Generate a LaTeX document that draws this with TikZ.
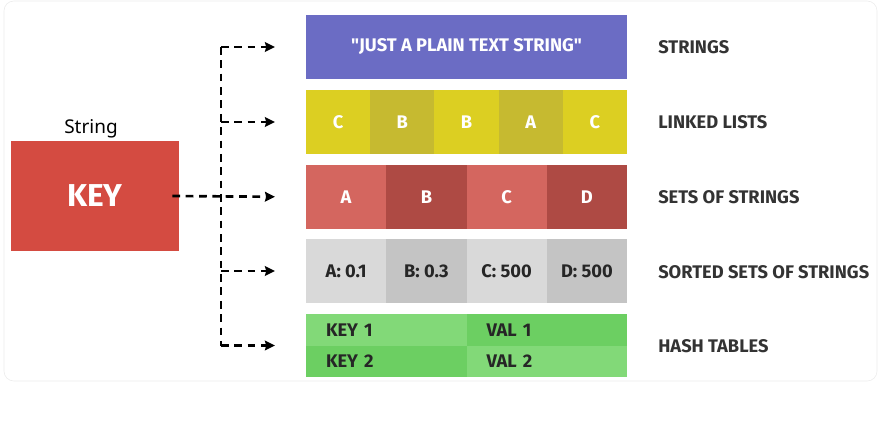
\documentclass[tikz,border=0pt]{standalone}
\usepackage{fontspec}
\setmainfont{Fira Sans}
\newfontfamily\notefont{Noto Sans}
\usetikzlibrary{positioning, arrows.meta}
\definecolor{keyred}{HTML}{D44B41}
\definecolor{strblue}{HTML}{6B6CC4}
\definecolor{llA}{HTML}{DCCF22}
\definecolor{llB}{HTML}{C6BA30}
\definecolor{setA}{HTML}{D4665F}
\definecolor{setB}{HTML}{AE4A44}
\definecolor{sortA}{HTML}{D9D9D9}
\definecolor{sortB}{HTML}{C4C4C4}
\definecolor{hashA}{HTML}{82D978}
\definecolor{hashB}{HTML}{6CCF62}
\definecolor{inkgray}{HTML}{333333}
\tikzset{
x=0.025cm, y=-0.025cm, % one unit is one pixel of the reference
cell/.style={inner sep=0pt, outer sep=0pt, minimum height=1.6cm, font=\bfseries\fontsize{13}{15}\selectfont}, % one coloured box of a row
hcell/.style={inner xsep=0.5cm, inner ysep=0pt, outer sep=0pt, text width=3.0125cm, align=left, minimum height=0.7875cm, text=black!85, font=\bfseries\fontsize{13}{15}\selectfont}, % half-row of the hash table
kind/.style={anchor=west, inner sep=0pt, text=inkgray, font=\bfseries\fontsize{13}{15}\selectfont}, % names on the right
trunkline/.style={line width=1.9pt, dash pattern=on 5.5pt off 4pt}, % dashed lines
flow/.style={trunkline, -{Stealth[length=0.25cm, width=0.24cm, inset=0.03cm]}, shorten >=0.775cm}, % dashed arrows
}
\begin{document}
\begin{tikzpicture}
    \useasboundingbox (0,0) rectangle (879,422);
    \draw[black!8, rounded corners=7pt] (4,1) rectangle (877,381);

    \node[fill=keyred, minimum width=4.2cm, minimum height=2.75cm, inner sep=0pt, text=white, font=\bfseries\fontsize{22.5}{26}\selectfont] (key) at (95,196) {KEY};
    \node[font=\notefont\fontsize{13.5}{16}\selectfont, above=-1.5pt of key, xshift=-0.1cm] (keytype) {String};

    % the five kinds of value
    \node[cell, fill=strblue, minimum width=8.025cm, text=white, anchor=north west] (strings) at (306,15) {\textquotedbl JUST A PLAIN TEXT STRING\textquotedbl};

    \node[cell, fill=llA, minimum width=1.605cm, text=white, anchor=north west] (ll1) at (306,90) {C};
    \foreach \lbl [count=\i from 2] in {B,B,A,C} {
        \pgfmathtruncatemacro{\prev}{\i-1}
        \ifodd\i \def\col{llA}\else\def\col{llB}\fi
        \node[cell, fill=\col, minimum width=1.605cm, text=white, right=0pt of ll\prev] (ll\i) {\lbl};
    }

    \node[cell, fill=setA, minimum width=2.006cm, text=white, anchor=north west] (set1) at (306,165) {A};
    \foreach \lbl [count=\i from 2] in {B,C,D} {
        \pgfmathtruncatemacro{\prev}{\i-1}
        \ifodd\i \def\col{setA}\else\def\col{setB}\fi
        \node[cell, fill=\col, minimum width=2.006cm, text=white, right=0pt of set\prev] (set\i) {\lbl};
    }

    \node[cell, fill=sortA, minimum width=2.006cm, text=black!85, anchor=north west] (sort1) at (306,239) {A: 0.1};
    \foreach \lbl [count=\i from 2] in {B: 0.3,C: 500,D: 500} {
        \pgfmathtruncatemacro{\prev}{\i-1}
        \ifodd\i \def\col{sortA}\else\def\col{sortB}\fi
        \node[cell, fill=\col, minimum width=2.006cm, text=black!85, right=0pt of sort\prev] (sort\i) {\lbl};
    }

    \node[hcell, fill=hashA, anchor=north west] (hk1) at (306,314) {KEY 1};
    \node[hcell, fill=hashB, right=0pt of hk1] (hv1) {VAL 1};
    \node[hcell, fill=hashB, below=0pt of hk1] (hk2) {KEY 2};
    \node[hcell, fill=hashA, right=0pt of hk2] (hv2) {VAL 2};

    % names
    \node[kind] (nstr) at (658,47) {STRINGS};
    \node[kind] (nll) at (658,122) {LINKED LISTS};
    \node[kind] (nset) at (658,197) {SETS OF STRINGS};
    \node[kind] (nsort) at (658,272) {SORTED SETS OF STRINGS};
    \node[kind] (nhash) at (658,346) {HASH TABLES};

    % arrows
    \coordinate (trunk) at (221,197);
    \draw[trunkline] (strings.west -| trunk) -- (hk1.south west -| trunk);
    \draw[flow] (strings.west -| trunk) -- (strings.west);
    \draw[flow] (ll1.west -| trunk) -- (ll1.west);
    \draw[flow] ([xshift=-0.175cm]key.east) -- (set1.west);
    \draw[flow] (sort1.west -| trunk) -- (sort1.west);
    \draw[flow] (hk1.south west -| trunk) -- (hk1.south west);
  \end{tikzpicture}
\end{document}
